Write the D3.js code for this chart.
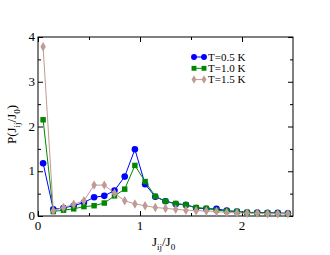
<!DOCTYPE html>
<html>
<head>
<meta charset="utf-8">
<script src="https://cdn.jsdelivr.net/npm/d3@7"></script>
<style>
  body { margin: 0; background: #fff; }
  text { font-family: "Liberation Serif", "Times New Roman", serif; }
</style>
</head>
<body>
<div id="chart"></div>
<script>
// x positions (bin centres)
var xs = [0.05, 0.15, 0.25, 0.35, 0.45, 0.55, 0.65, 0.75, 0.85, 0.95, 1.05, 1.15, 1.25,
          1.35, 1.45, 1.55, 1.65, 1.75, 1.85, 1.95, 2.05, 2.15, 2.25, 2.35, 2.45];
var t05 = [1.18, 0.15, 0.18, 0.23, 0.30, 0.42, 0.45, 0.57, 0.88, 1.49, 0.71, 0.43, 0.33,
           0.27, 0.25, 0.18, 0.16, 0.16, 0.12, 0.10, 0.08, 0.08, 0.07, 0.07, 0.06];
var t10 = [2.15, 0.10, 0.13, 0.16, 0.21, 0.23, 0.29, 0.45, 0.60, 1.13, 0.77, 0.44, 0.33,
           0.28, 0.25, 0.19, 0.17, 0.13, 0.11, 0.10, 0.08, 0.07, 0.07, 0.06, 0.05];
var t15 = [3.78, 0.12, 0.19, 0.26, 0.34, 0.69, 0.69, 0.51, 0.34, 0.27, 0.23, 0.19, 0.17,
           0.15, 0.13, 0.12, 0.11, 0.10, 0.08, 0.07, 0.06, 0.06, 0.05, 0.05, 0.05];
var seriesNames = ["T=0.5 K", "T=1.0 K", "T=1.5 K"];
var xTicks = [0, 1, 2];
var yTicks = [0, 1, 2, 3, 4];

var margin = {top: 37, right: 37, bottom: 39, left: 38},
    width = 330 - margin.left - margin.right,
    height = 255 - margin.top - margin.bottom;

var svg = d3.select("#chart")
  .append("svg")
  .attr("width", 330)
  .attr("height", 255)
  .append("g")
  .attr("transform", "translate(" + margin.left + "," + margin.top + ")");

var x = d3.scaleLinear().domain([0, 2.5]).range([0, width]);
var y = d3.scaleLinear().domain([0, 4]).range([height, 0]);

// frame
svg.append("rect")
  .attr("width", width).attr("height", height)
  .attr("fill", "none").attr("stroke", "#000").attr("stroke-width", 1);

// ticks, inward, on all four sides
function tickAxes(axis, tr, vals, size) {
  var g = svg.append("g").attr("transform", tr)
    .call(axis.tickValues(vals).tickSize(size).tickFormat(""));
  g.select(".domain").remove();
  g.selectAll("line").attr("stroke", "#000");
}
var xMinor = [0.5, 1.5];
var yMinor = [0.5, 1.5, 2.5, 3.5];
tickAxes(d3.axisTop(x), "translate(0," + height + ")", xTicks, 5);
tickAxes(d3.axisTop(x), "translate(0," + height + ")", xMinor, 3);
tickAxes(d3.axisBottom(x), "translate(0,0)", xTicks, 5);
tickAxes(d3.axisBottom(x), "translate(0,0)", xMinor, 3);
tickAxes(d3.axisRight(y), "translate(0,0)", yTicks, 5);
tickAxes(d3.axisRight(y), "translate(0,0)", yMinor, 3);
tickAxes(d3.axisLeft(y), "translate(" + width + ",0)", yTicks, 5);
tickAxes(d3.axisLeft(y), "translate(" + width + ",0)", yMinor, 3);

// tick labels
svg.selectAll(".xl").data(xTicks).enter().append("text")
  .attr("x", d => x(d)).attr("y", height + 14)
  .attr("text-anchor", "middle").attr("font-size", 13).text(d => d);
svg.selectAll(".yl").data(yTicks).enter().append("text")
  .attr("x", -3).attr("y", d => y(d) + 4)
  .attr("text-anchor", "end").attr("font-size", 13).text(d => d);

// axis titles
var xt = svg.append("text").attr("x", width / 2 - 2).attr("y", height + 30)
  .attr("text-anchor", "middle").attr("font-size", 13);
xt.append("tspan").text("J");
xt.append("tspan").attr("font-size", 9).attr("dy", 4).text("ij");
xt.append("tspan").attr("dy", -4).text("/J");
xt.append("tspan").attr("font-size", 9).attr("dy", 4).text("0");

var yt = svg.append("text")
  .attr("transform", "translate(-22," + (height / 2 - 2) + ") rotate(-90)")
  .attr("text-anchor", "middle").attr("font-size", 13);
yt.append("tspan").text("P(J");
yt.append("tspan").attr("font-size", 9).attr("dy", 4).text("ij");
yt.append("tspan").attr("dy", -4).text("/J");
yt.append("tspan").attr("font-size", 9).attr("dy", 4).text("0");
yt.append("tspan").attr("dy", -4).text(")");

var series = [
  {name: seriesNames[0], vals: t05, color: "#0000ff", sym: d3.symbolCircle, size: 34},
  {name: seriesNames[1], vals: t10, color: "#008800", sym: d3.symbolSquare, size: 30},
  {name: seriesNames[2], vals: t15, color: "#c09a94", sym: d3.symbolDiamond, size: 26}
];

var line = d3.line().x(d => x(d[0])).y(d => y(d[1]));

series.forEach(function(s) {
  var pts = xs.map((v, i) => [v, s.vals[i]]);
  svg.append("path").datum(pts)
    .attr("d", line).attr("fill", "none")
    .attr("stroke", s.color).attr("stroke-width", 1);
  svg.selectAll(null).data(pts).enter().append("path")
    .attr("d", d3.symbol().type(s.sym).size(s.size))
    .attr("transform", d => "translate(" + x(d[0]) + "," + y(d[1]) + ")")
    .attr("fill", s.color);
});

// legend
var lg = svg.append("g").attr("transform", "translate(156,20)");
series.forEach(function(s, i) {
  var yy = i * 11.3;
  lg.append("line").attr("x1", 0).attr("x2", 10).attr("y1", yy).attr("y2", yy)
    .attr("stroke", s.color).attr("stroke-width", 1);
  [0, 10].forEach(function(px) {
    lg.append("path")
      .attr("d", d3.symbol().type(s.sym).size(s.size * 0.8))
      .attr("transform", "translate(" + px + "," + yy + ")")
      .attr("fill", s.color);
  });
  lg.append("text").attr("x", 14).attr("y", yy + 3.5)
    .attr("font-size", 11).text(s.name);
});
</script>
</body>
</html>
